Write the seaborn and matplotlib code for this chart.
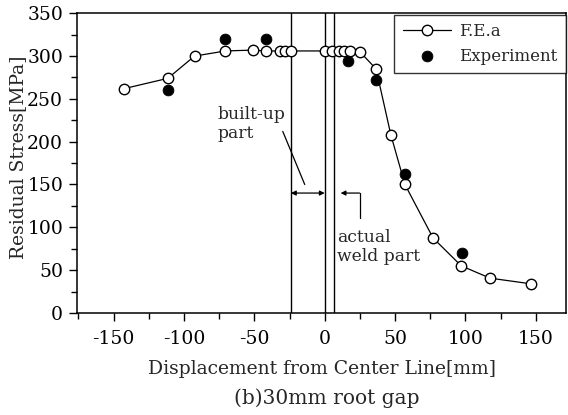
import matplotlib
matplotlib.use("Agg")
import matplotlib.pyplot as plt
import seaborn as sns
import pandas as pd
from matplotlib.ticker import MultipleLocator, FuncFormatter

# ---- data ----
fe_x = [-142.5, -111.5, -92.5, -70.5, -51, -42, -32, -28, -24,
        0, 5, 10, 13.5, 18, 25, 36.5, 47, 57, 77, 97, 117.5, 146.5]
fe_y = [262, 274, 300, 306, 307, 306, 306, 306, 306,
        306, 306, 306, 306, 306, 305, 285, 208, 150, 87.5, 55, 40.6, 34]
exp_x = [-111, -71, -41.5, 16.5, 36.5, 57, 97.5]
exp_y = [260, 320, 320.5, 294, 272, 162, 70]
region_lines = [-24, 0, 6.5]

fe = pd.DataFrame({"x": fe_x, "y": fe_y})
ex = pd.DataFrame({"x": exp_x, "y": exp_y})

sns.set_style("ticks")
plt.rcParams["font.family"] = ["DejaVu Serif"]

FS = 13.5

fig = plt.figure(figsize=(5.68, 4.15), dpi=100)
ax = fig.add_axes([0.1356, 0.246, 0.861, 0.722])

sns.lineplot(data=fe, x="x", y="y", ax=ax, color="black", linewidth=0.9,
             marker="o", markersize=7.5, markerfacecolor="white",
             markeredgecolor="black", markeredgewidth=1.0,
             label="F.E.a", sort=False, zorder=3)
sns.scatterplot(data=ex, x="x", y="y", ax=ax, color="black", s=60,
                edgecolor="black", label="Experiment", zorder=4)

for xv in region_lines:
    ax.axvline(xv, color="black", linewidth=1.0, zorder=1)

# annotations
ax.annotate("", xy=(-24, 140), xytext=(0, 140),
            arrowprops=dict(arrowstyle="<|-|>", color="black", lw=0.9,
                            mutation_scale=7, shrinkA=0, shrinkB=0))
ax.plot([-29.8, -14.2], [212, 150], color="black", linewidth=0.9)
ax.text(-75.9, 221, "built-up\npart", fontsize=12.3, ha="left", va="center",
        linespacing=1.15)

ax.plot([24.8, 24.8], [140, 111], color="black", linewidth=0.9)
ax.annotate("", xy=(11.3, 140), xytext=(24.8, 140),
            arrowprops=dict(arrowstyle="-|>", color="black", lw=0.9,
                            mutation_scale=7, shrinkA=0, shrinkB=0))
ax.text(8.5, 76.5, "actual\nweld part", fontsize=12.3, ha="left", va="center",
        linespacing=1.15)

ax.set_xlim(-176, 171.5)
ax.set_ylim(0, 350)
ax.xaxis.set_major_locator(MultipleLocator(50))
ax.xaxis.set_minor_locator(MultipleLocator(25))
ax.yaxis.set_major_locator(MultipleLocator(50))
ax.yaxis.set_minor_locator(MultipleLocator(25))
ax.xaxis.set_major_formatter(FuncFormatter(lambda v, p: f"{int(v)}"))
ax.yaxis.set_major_formatter(FuncFormatter(lambda v, p: f"{int(v)}"))
ax.tick_params(axis="both", which="major", direction="out", length=6,
               width=1.0, labelsize=FS, colors="black", pad=4)
ax.tick_params(axis="x", which="major", pad=6)
ax.tick_params(axis="both", which="minor", direction="out", length=4,
               width=1.0, colors="black")
for s in ax.spines.values():
    s.set_visible(True)
    s.set_linewidth(1.1)
    s.set_color("black")

ax.set_xlabel("Displacement from Center Line[mm]", fontsize=FS, labelpad=9)
ax.set_ylabel("Residual Stress[MPa]", fontsize=FS)
ax.yaxis.set_label_coords(-0.103, 0.52)

leg = ax.legend(loc="upper right", bbox_to_anchor=(1.0, 0.995),
                fontsize=12, frameon=True, fancybox=False,
                edgecolor="black", borderaxespad=0.0, handlelength=2.9,
                handletextpad=0.5, labelspacing=0.45, borderpad=0.5)
leg.get_frame().set_linewidth(1.0)

fig.text(0.575, 0.04, "(b)30mm root gap", fontsize=FS + 1, ha="center",
         va="center")

fig.savefig("out.png", dpi=100)
